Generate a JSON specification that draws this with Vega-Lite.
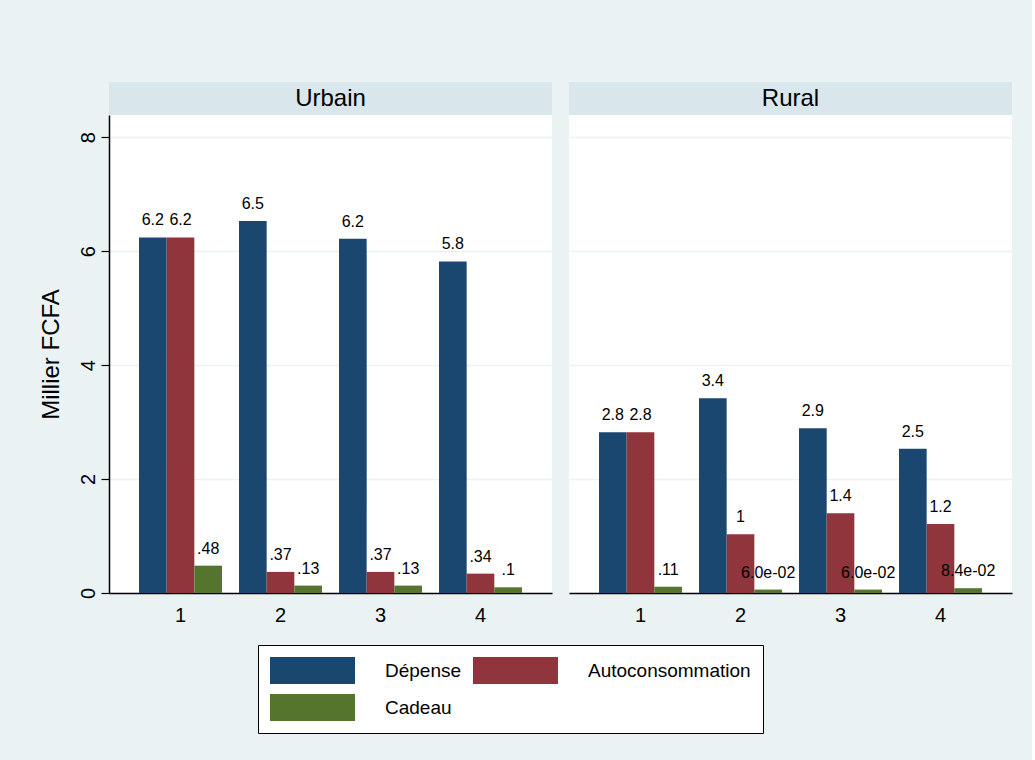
{
  "$schema": "https://vega.github.io/schema/vega-lite/v6.json",
  "background": "#eaf2f3",
  "padding": {"left": 38, "top": 82, "right": 20, "bottom": 27},
  "config": {
    "font": "Liberation Sans",
    "view": {"stroke": null},
    "concat": {"spacing": 17},
    "axis": {"labelFont": "Liberation Sans", "titleFont": "Liberation Sans", "labelColor": "#000000", "titleColor": "#000000"}
  },
  "datasets": {
    "bars": [
      {"panel": "Urbain", "q": "1", "type": "Dépense", "value": 6.24, "label": "6.2"},
      {"panel": "Urbain", "q": "1", "type": "Autoconsommation", "value": 6.24, "label": "6.2"},
      {"panel": "Urbain", "q": "1", "type": "Cadeau", "value": 0.48, "label": ".48"},
      {"panel": "Urbain", "q": "2", "type": "Dépense", "value": 6.53, "label": "6.5"},
      {"panel": "Urbain", "q": "2", "type": "Autoconsommation", "value": 0.37, "label": ".37"},
      {"panel": "Urbain", "q": "2", "type": "Cadeau", "value": 0.13, "label": ".13"},
      {"panel": "Urbain", "q": "3", "type": "Dépense", "value": 6.22, "label": "6.2"},
      {"panel": "Urbain", "q": "3", "type": "Autoconsommation", "value": 0.37, "label": ".37"},
      {"panel": "Urbain", "q": "3", "type": "Cadeau", "value": 0.13, "label": ".13"},
      {"panel": "Urbain", "q": "4", "type": "Dépense", "value": 5.82, "label": "5.8"},
      {"panel": "Urbain", "q": "4", "type": "Autoconsommation", "value": 0.34, "label": ".34"},
      {"panel": "Urbain", "q": "4", "type": "Cadeau", "value": 0.10, "label": ".1"},
      {"panel": "Rural", "q": "1", "type": "Dépense", "value": 2.82, "label": "2.8"},
      {"panel": "Rural", "q": "1", "type": "Autoconsommation", "value": 2.82, "label": "2.8"},
      {"panel": "Rural", "q": "1", "type": "Cadeau", "value": 0.11, "label": ".11"},
      {"panel": "Rural", "q": "2", "type": "Dépense", "value": 3.42, "label": "3.4"},
      {"panel": "Rural", "q": "2", "type": "Autoconsommation", "value": 1.03, "label": "1"},
      {"panel": "Rural", "q": "2", "type": "Cadeau", "value": 0.06, "label": "6.0e-02"},
      {"panel": "Rural", "q": "3", "type": "Dépense", "value": 2.89, "label": "2.9"},
      {"panel": "Rural", "q": "3", "type": "Autoconsommation", "value": 1.40, "label": "1.4"},
      {"panel": "Rural", "q": "3", "type": "Cadeau", "value": 0.06, "label": "6.0e-02"},
      {"panel": "Rural", "q": "4", "type": "Dépense", "value": 2.53, "label": "2.5"},
      {"panel": "Rural", "q": "4", "type": "Autoconsommation", "value": 1.21, "label": "1.2"},
      {"panel": "Rural", "q": "4", "type": "Cadeau", "value": 0.084, "label": "8.4e-02"}
    ],
    "headers": [
      {"panel": "Urbain"},
      {"panel": "Rural"}
    ]
  },
  "hconcat": [
    {
      "spacing": 0,
      "vconcat": [
        {
          "width": 443, "height": 33,
          "view": {"fill": "#d9e6eb", "stroke": null},
          "data": {"name": "headers"},
          "transform": [{"filter": "datum.panel === 'Urbain'"}],
          "mark": {"type": "text", "fontSize": 24, "font": "Liberation Sans", "color": "#000000", "baseline": "middle"},
          "encoding": {"text": {"field": "panel"}}
        },
        {
          "width": 443, "height": 478,
          "view": {"fill": "#ffffff", "stroke": null},
          "data": {"name": "bars"},
          "transform": [{"filter": "datum.panel === 'Urbain'"}],
          "encoding": {
            "x": {"field": "q", "type": "nominal", "scale": {"paddingInner": 0.17, "paddingOuter": 0.3},
                  "axis": {"title": null, "labelAngle": 0, "labelFontSize": 20, "ticks": false, "labelPadding": 12, "domainColor": "#000000", "domainWidth": 1.5}},
            "xOffset": {"field": "type", "type": "nominal", "sort": ["Dépense", "Autoconsommation", "Cadeau"], "scale": {"paddingInner": 0, "paddingOuter": 0}},
            "y": {"field": "value", "type": "quantitative", "scale": {"domain": [0, 8.39], "nice": false},
                  "axis": {"title": "Millier FCFA", "titleFontSize": 24, "titleFontWeight": "normal", "titlePadding": 15,
                           "values": [0, 2, 4, 6, 8], "labelAngle": 270, "labelFontSize": 20, "tickSize": 8, "tickColor": "#000000", "tickWidth": 1.2,
                           "domainColor": "#000000", "domainWidth": 1.5, "labelPadding": 3, "gridColor": "#eaf2f3", "gridWidth": 1.5}}
          },
          "layer": [
            {
              "mark": {"type": "bar"},
              "encoding": {
                "color": {"field": "type", "type": "nominal", "sort": ["Dépense", "Autoconsommation", "Cadeau"],
                          "scale": {"domain": ["Dépense", "Autoconsommation", "Cadeau"], "range": ["#1a476f", "#90353b", "#55752f"]},
                          "legend": {"title": null, "orient": "none", "legendX": 149, "legendY": 563, "direction": "horizontal", "columns": 2,
                                     "symbolType": "M-3.15,-1H3.15V1H-3.15Z", "symbolSize": 729, "symbolStrokeWidth": 0, "symbolOffset": 29,
                                     "labelFontSize": 19, "labelFont": "Liberation Sans", "labelColor": "#000000", "labelOffset": 59, "columnPadding": 10, "rowPadding": 10,
                                     "padding": 12, "strokeColor": "#000000", "fillColor": "#ffffff", "labelLimit": 300}}
              }
            },
            {
              "mark": {"type": "text", "baseline": "bottom", "dy": -9, "fontSize": 16, "font": "Liberation Sans", "color": "#000000"},
              "encoding": {"text": {"field": "label"}}
            }
          ]
        }
      ]
    },
    {
      "spacing": 0,
      "vconcat": [
        {
          "width": 443, "height": 33,
          "view": {"fill": "#d9e6eb", "stroke": null},
          "data": {"name": "headers"},
          "transform": [{"filter": "datum.panel === 'Rural'"}],
          "mark": {"type": "text", "fontSize": 24, "font": "Liberation Sans", "color": "#000000", "baseline": "middle"},
          "encoding": {"text": {"field": "panel"}}
        },
        {
          "width": 443, "height": 478,
          "view": {"fill": "#ffffff", "stroke": null},
          "data": {"name": "bars"},
          "transform": [{"filter": "datum.panel === 'Rural'"}],
          "encoding": {
            "x": {"field": "q", "type": "nominal", "scale": {"paddingInner": 0.17, "paddingOuter": 0.3},
                  "axis": {"title": null, "labelAngle": 0, "labelFontSize": 20, "ticks": false, "labelPadding": 12, "domainColor": "#000000", "domainWidth": 1.5}},
            "xOffset": {"field": "type", "type": "nominal", "sort": ["Dépense", "Autoconsommation", "Cadeau"], "scale": {"paddingInner": 0, "paddingOuter": 0}},
            "y": {"field": "value", "type": "quantitative", "scale": {"domain": [0, 8.39], "nice": false},
                  "axis": {"title": null, "values": [0, 2, 4, 6, 8], "labels": false, "ticks": false, "domain": false, "gridColor": "#eaf2f3", "gridWidth": 1.5}}
          },
          "layer": [
            {
              "mark": {"type": "bar"},
              "encoding": {
                "color": {"field": "type", "type": "nominal", "sort": ["Dépense", "Autoconsommation", "Cadeau"],
                          "scale": {"domain": ["Dépense", "Autoconsommation", "Cadeau"], "range": ["#1a476f", "#90353b", "#55752f"]}}
              }
            },
            {
              "mark": {"type": "text", "baseline": "bottom", "dy": -9, "fontSize": 16, "font": "Liberation Sans", "color": "#000000"},
              "encoding": {"text": {"field": "label"}}
            }
          ]
        }
      ]
    }
  ]
}
